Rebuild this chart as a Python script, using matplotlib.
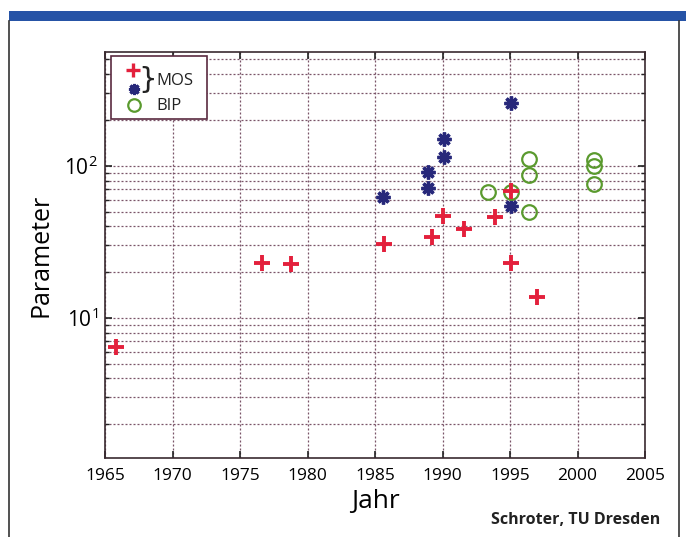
import matplotlib
matplotlib.use("Agg")
import matplotlib.pyplot as plt
from matplotlib.patches import Rectangle
from matplotlib.lines import Line2D
from matplotlib.ticker import FixedLocator, LogLocator, FuncFormatter, NullFormatter

plt.rcParams['font.family'] = ['Open Sans', 'DejaVu Sans']

# ---- data ----
mos_plus_year = [1965.8, 1976.6, 1978.8, 1985.7, 1989.2, 1990.05, 1991.6, 1993.9, 1995.05, 1995.05, 1997.0]
mos_plus_val = [6.4, 22.9, 22.7, 30.5, 34, 47, 38.5, 46.4, 68.5, 22.9, 13.7]

mos_star_year = [1985.6, 1988.9, 1988.9, 1990.1, 1990.1, 1995.1, 1995.05]
mos_star_val = [62.8, 91.7, 72, 151, 115, 258, 54.8]

bip_year = [1993.4, 1995.05, 1996.4, 1996.4, 1996.4, 2001.2, 2001.2, 2001.2]
bip_val = [67, 67, 110.7, 87.3, 49.5, 109.5, 99, 76.5]

x_ticks = [1965, 1970, 1975, 1980, 1985, 1990, 1995, 2000, 2005]

red = '#e3203c'
navy = '#27287a'
green = '#5a9a2e'
gridc = '#7a5468'

fig = plt.figure(figsize=(6.86, 5.37), dpi=100)

# page decorations: blue bar and frame
fig.add_artist(Rectangle((9 / 686, 1 - 21 / 537), 677 / 686, 10 / 537, transform=fig.transFigure,
                         facecolor='#2653a6', edgecolor='none'))
fig.add_artist(Line2D([9 / 686, 9 / 686], [0, 1 - 21 / 537], transform=fig.transFigure, color='#333333', lw=1.2))
fig.add_artist(Line2D([679 / 686, 679 / 686], [0, 1 - 21 / 537], transform=fig.transFigure, color='#333333', lw=1.2))

ax = fig.add_axes([105 / 686, 1 - 458 / 537, 540 / 686, 406 / 537])
ax.set_yscale('log')
ax.set_xlim(1965, 2005)
ax.set_ylim(1.2, 560)

ax.xaxis.set_major_locator(FixedLocator(x_ticks))
ax.yaxis.set_major_locator(LogLocator(base=10, numticks=10))
ax.yaxis.set_minor_locator(LogLocator(base=10, subs=range(2, 10), numticks=20))
ax.yaxis.set_minor_formatter(NullFormatter())

def yfmt(v, pos):
    import math
    e = int(round(math.log10(v)))
    return r'$\mathregular{10^{%d}}$' % e

ax.yaxis.set_major_formatter(FuncFormatter(yfmt))

ax.grid(True, which='major', axis='both', color=gridc, linestyle=(0, (1.6, 1.6)), linewidth=0.9)
ax.grid(True, which='minor', axis='y', color=gridc, linestyle=(0, (1.6, 1.6)), linewidth=0.9)

ax.tick_params(axis='both', which='both', direction='in', top=True, right=True, color='#222222')
ax.tick_params(axis='both', which='major', length=5, width=1.2, labelsize=12.5, pad=7)
ax.tick_params(axis='both', which='minor', length=3, width=1.0)
ax.tick_params(axis='y', which='major', labelsize=15, pad=5)
for s in ax.spines.values():
    s.set_color('#3a2a30')
    s.set_linewidth(1.2)

ax.plot(mos_plus_year, mos_plus_val, linestyle='none', marker='+', markersize=11.5, markeredgewidth=2.8,
        color=red, zorder=4)
ax.plot(mos_star_year, mos_star_val, linestyle='none', marker=(8, 2, 0), markersize=10, markeredgewidth=2.4,
        color=navy, zorder=3)
ax.plot(bip_year, bip_val, linestyle='none', marker='o', markersize=10.5, markeredgewidth=1.6,
        markerfacecolor='none', markeredgecolor=green, zorder=3)

ax.set_xlabel('Jahr', fontsize=19, labelpad=4)
ax.set_ylabel('Parameter', fontsize=18, labelpad=8)

# legend (drawn manually to reproduce the brace grouping)
lx0, ly0 = (111 - 105) / 540, (458 - 119) / 406
lw_, lh_ = (207 - 111) / 540, (119 - 56) / 406
ax.add_patch(Rectangle((lx0, ly0), lw_, lh_, transform=ax.transAxes, facecolor='white',
                       edgecolor='#5a2a40', linewidth=1.2, zorder=6))

def ax_xy(px, py):
    return (px - 105) / 540, (458 - py) / 406

for (px, py), mk in [((133, 70), 'plus'), ((134, 89), 'star'), ((134, 105), 'circ')]:
    x, y = ax_xy(px, py)
    if mk == 'plus':
        ax.plot([x], [y], transform=ax.transAxes, marker='+', markersize=10, markeredgewidth=2.4,
                color=red, zorder=7, clip_on=False)
    elif mk == 'star':
        ax.plot([x], [y], transform=ax.transAxes, marker=(8, 2, 0), markersize=8, markeredgewidth=2.2,
                color=navy, zorder=7, clip_on=False)
    else:
        ax.plot([x], [y], transform=ax.transAxes, marker='o', markersize=9, markeredgewidth=1.6,
                markerfacecolor='none', markeredgecolor=green, zorder=7, clip_on=False)

bx, by = ax_xy(148, 80)
ax.text(bx, by, '}', transform=ax.transAxes, fontsize=21, ha='center', va='center', color='#222222',
        zorder=7, family=['DejaVu Sans'])
tx, ty = ax_xy(156, 81)
ax.text(tx, ty, 'MOS', transform=ax.transAxes, fontsize=12, ha='left', va='center', color='#222222', zorder=7)
tx, ty = ax_xy(156, 106)
ax.text(tx, ty, 'BIP', transform=ax.transAxes, fontsize=12, ha='left', va='center', color='#222222', zorder=7)

fig.text(660 / 686, 1 - 520 / 537, 'Schroter, TU Dresden', fontsize=11.5, fontweight='bold',
         ha='right', va='center', color='#222222')

fig.savefig('out.png', dpi=100)
